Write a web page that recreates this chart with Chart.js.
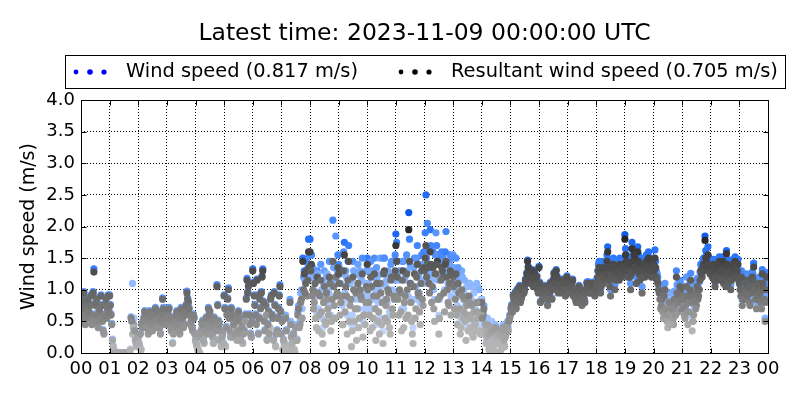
<!DOCTYPE html>
<html>
<head>
<meta charset="utf-8">
<script src="https://cdn.jsdelivr.net/npm/chart.js@4.4.0/dist/chart.umd.min.js"></script>
<style>
  body { margin: 0; background: #fff; }
</style>
</head>
<body>
<canvas id="chart" width="800" height="400"></canvas>
<script>
const latestTime = "2023-11-09 00:00:00 UTC";
const stepMinutes = 3; // 20 samples per hour in each array
const hourLabels = ["00","01","02","03","04","05","06","07","08","09","10","11",
  "12","13","14","15","16","17","18","19","20","21","22","23","00"];
const windMean = 0.817;
const resultantMean = 0.705;

// samples on the 3-minute marks
const windSpeed = [
  0.87,0.62,0.97,0.47,0.72,0.82,0.57,0.92,0.52,1.33,0.77,0.87,0.42,0.67,0.92,0.52,0.32,0.77,0.57,0.92, // 00
  0.92,0.62,0.22,0.06,0,0,0,0,0,0,0,0,0,0,0,0.57,1.1,0.55,0.22,0.14,                                  // 01
  0.27,0.12,0.07,0.42,0.57,0.62,0.47,0.32,0.67,0.52,0.37,0.57,0.72,0.47,0.62,0.42,0.52,0.87,0.67,0.47, // 02
  0.52,0.62,0.47,0.37,0.17,0.57,0.42,0.67,0.52,0.32,0.72,0.57,0.47,0.62,0.98,0.82,0.62,0.52,0.37,0.57, // 03
  0.22,0.12,0.06,0.01,0.37,0.52,0.17,0.47,0.32,0.72,0.67,0.42,0.27,0.57,0.22,1.08,0.52,0.37,0.12,0.32, // 04
  0.92,0.12,0.62,1.03,0.37,0.72,0.27,0.57,0.55,0.22,0.67,0.32,0.52,0.17,0.37,0.62,1.18,1.07,0.47,0.27, // 05
  1.33,0.92,0.62,1.17,0.32,0.87,0.97,1.33,0.52,0.77,0.22,0.67,0.6,0.92,0.57,0.97,0.12,0.37,0.72,1.08,  // 06
  0.32,0.07,0.17,0.6,0.02,0.12,0.85,0.27,0.03,0.07,0.45,0.22,0.75,0.5,1.0,1.5,1.3,1.25,1.2,1.8,        // 07
  1.8,1.55,1.35,1.2,0.9,1.3,0.7,1.15,1.0,0.4,1.3,0.8,1.25,0.95,1.45,0.75,2.1,1.1,1.85,1.3,             // 08
  1.4,0.9,1.25,0.8,1.75,1.3,0.6,1.7,1.1,0.45,1.45,0.85,1.25,1.05,0.7,1.3,1.15,0.5,0.95,1.1,            // 09
  1.5,1.1,0.7,1.3,0.85,1.5,0.45,1.2,1.0,1.5,0.8,0.35,1.5,1.05,0.8,1.25,0.6,1.45,0.95,1.15,             // 10
  1.88,1.45,0.95,1.3,0.7,1.45,1.15,0.9,1.3,2.22,1.4,0.85,0.4,1.5,1.05,1.7,1.2,0.8,1.55,1.1,            // 11
  1.6,2.5,2.05,1.35,1.95,1.15,1.6,0.85,1.9,1.55,0.6,1.2,1.6,1.5,1.0,1.92,1.3,1.05,1.55,1.35,           // 12
  1.55,1.0,1.5,0.75,1.2,0.5,1.3,0.85,1.15,0.4,0.9,1.1,0.6,1.05,0.45,0.75,0.55,1.05,1.0,0.45,           // 13
  0.85,0.65,0.45,0.2,0.55,0.08,0.3,0.5,0.12,0.35,0.25,0.4,0.02,0.18,0.3,0.45,0.12,0.35,0.5,0.52,       // 14
  0.62,0.77,0.92,0.87,0.72,1.02,0.97,0.82,0.92,1.07,1.02,1.12,1.47,1.32,1.17,1.22,1.07,1.27,1.12,1.02, // 15
  1.37,0.82,1.02,0.97,0.92,1.07,0.77,1.02,1.12,0.87,1.17,1.22,1.32,1.07,1.12,1.02,0.97,1.17,1.07,1.12, // 16
  1.17,1.07,1.02,1.12,0.92,0.97,0.82,1.02,1.07,0.87,0.77,0.97,0.82,1.02,1.13,1.12,0.97,1.02,1.08,0.93, // 17
  1.05,1.3,1.45,1.0,1.35,1.2,1.4,1.28,1.68,1.25,1.0,1.4,1.5,1.08,1.35,1.45,1.22,1.38,1.3,1.48,         // 18
  1.87,1.55,1.3,1.45,1.1,1.75,1.4,1.6,1.2,1.68,1.35,1.5,1.05,1.4,1.3,1.55,1.42,1.35,1.5,1.38,          // 19
  1.5,1.63,1.3,1.2,1.05,0.85,0.95,0.7,1.1,0.75,0.55,0.95,0.62,0.8,0.55,0.9,1.3,0.8,1.02,1.1,           // 20
  0.8,1.05,0.7,1.2,0.6,0.95,1.26,0.5,0.75,1.1,0.9,0.98,1.12,1.4,1.35,1.5,1.85,1.55,1.68,1.4,           // 21
  1.42,1.3,1.48,1.12,1.38,1.22,1.52,1.33,1.42,1.18,1.28,1.62,1.18,1.42,1.08,1.38,1.28,1.52,1.33,1.48,  // 22
  1.18,1.0,0.85,1.1,0.95,1.25,1.05,0.9,1.12,1.28,1.42,1.15,0.8,1.0,1.2,0.9,1.32,1.08,0.55,1.27         // 23
];

// samples half way between the marks (+1.5 min)
const windSpeedHalf = [
  0.72,0.82,0.57,0.62,0.87,0.67,0.77,0.47,0.97,0.62,0.82,0.52,0.72,0.57,0.77,0.37,0.62,0.87,0.72,0.67, // 00
  0.77,0.47,0.12,0,0,0,0,0,0,0,0,0,0,0,0.07,0.53,0.55,0.37,0.17,0.22,                                 // 01
  0.17,0.32,0.47,0.52,0.67,0.42,0.57,0.62,0.37,0.47,0.62,0.52,0.42,0.67,0.57,0.32,0.62,0.72,0.52,0.57, // 02
  0.47,0.72,0.57,0.42,0.32,0.52,0.62,0.47,0.37,0.57,0.62,0.42,0.67,0.77,0.87,0.72,0.47,0.42,0.62,0.32, // 03
  0.17,0.07,0.27,0.32,0.47,0.22,0.37,0.57,0.42,0.62,0.32,0.52,0.17,0.42,0.37,0.77,0.47,0.22,0.27,0.17, // 04
  0.72,0.42,0.87,0.57,0.27,0.62,0.47,0.32,0.52,0.37,0.57,0.22,0.42,0.32,0.6,0.87,0.97,0.62,0.32,0.52,  // 05
  1.12,0.77,0.47,0.92,0.57,0.72,1.22,0.82,0.37,0.75,0.47,0.32,0.87,0.62,0.22,0.77,0.32,0.57,0.92,0.67, // 06
  0.52,0.22,0.12,0.37,0.07,0.02,0.5,0.17,0.32,0.02,0.22,0.65,0.45,0.95,0.7,1.2,1.15,1.45,1.35,1.55,    // 07
  1.55,1.2,1.0,1.3,0.65,1.25,0.95,1.4,0.55,1.1,0.85,1.2,1.0,1.45,0.6,1.15,1.35,0.9,1.2,1.55,           // 08
  1.35,1.1,0.75,1.6,0.95,1.2,1.45,0.85,1.15,0.6,1.3,1.0,0.4,1.4,0.85,1.2,1.5,0.9,0.7,1.3,              // 09
  1.3,0.9,1.45,0.7,1.2,1.0,1.35,0.8,0.55,1.25,1.1,1.5,0.85,1.15,1.3,0.65,1.4,1.0,1.2,1.55,             // 10
  1.75,1.15,1.3,0.95,1.45,0.7,1.2,1.55,0.9,1.8,1.1,0.55,1.35,0.85,1.5,1.25,0.95,1.4,1.15,1.6,          // 11
  1.9,1.5,1.65,1.25,1.7,1.35,1.0,1.55,1.7,1.15,0.85,1.45,1.55,1.25,1.6,1.45,1.1,1.4,0.9,1.5,           // 12
  1.35,1.1,0.9,1.35,1.0,0.65,1.2,0.95,0.75,1.05,0.55,1.1,0.85,0.5,0.95,0.7,1.1,0.8,0.55,0.85,          // 13
  0.6,0.75,0.55,0.3,0.35,0.12,0.4,0.25,0.07,0.45,0.3,0.18,0.35,0.07,0.4,0.22,0.28,0.45,0.4,0.6,        // 14
  0.72,0.67,0.87,0.97,0.82,0.92,1.07,0.87,1.02,0.97,1.17,1.27,1.37,1.22,1.12,1.32,1.17,1.07,1.22,0.97, // 15
  1.12,0.97,0.87,1.07,1.02,0.92,0.87,0.97,1.07,1.02,1.27,1.12,1.22,0.97,1.07,1.17,1.12,1.02,0.92,1.22, // 16
  1.12,0.97,1.07,1.17,1.02,0.87,0.92,0.97,0.82,1.02,0.92,0.87,0.97,1.12,1.02,0.97,1.07,1.12,0.97,1.02, // 17
  1.18,1.4,1.25,1.12,1.45,1.3,1.33,1.55,1.45,1.12,1.3,1.45,1.35,1.25,1.38,1.28,1.5,1.35,1.45,1.38,     // 18
  1.65,1.4,1.5,1.3,1.35,1.55,1.65,1.45,1.4,1.55,1.25,1.4,1.3,1.5,1.45,1.35,1.6,1.4,1.3,1.45,           // 19
  1.4,1.45,1.25,1.1,0.97,0.88,0.8,1.0,0.85,0.65,0.75,0.6,0.85,0.7,0.98,0.75,1.08,0.95,1.15,0.98,       // 20
  0.98,0.75,0.88,1.02,0.8,1.12,1.02,0.65,0.92,0.85,1.18,1.02,1.28,1.35,1.45,1.42,1.62,1.45,1.52,1.35,  // 21
  1.33,1.38,1.22,1.42,1.28,1.48,1.38,1.22,1.52,1.38,1.12,1.48,1.33,1.38,1.22,1.48,1.42,1.28,1.38,1.22, // 22
  1.08,1.3,0.95,1.05,1.2,1.0,1.15,0.85,1.05,1.25,1.1,0.95,1.0,1.15,1.05,0.8,1.2,0.95,0.9,1.1           // 23
];

const resultantSpeed = [
  0.85,0.6,0.95,0.45,0.7,0.8,0.55,0.9,0.5,1.28,0.75,0.85,0.4,0.65,0.9,0.5,0.3,0.75,0.55,0.9,          // 00
  0.9,0.6,0.2,0.05,0,0,0,0,0,0,0,0,0,0,0,0.55,0.3,0.45,0.2,0.1,                                       // 01
  0.25,0.1,0.05,0.4,0.55,0.6,0.45,0.3,0.65,0.5,0.35,0.55,0.7,0.45,0.6,0.4,0.5,0.85,0.65,0.45,         // 02
  0.5,0.6,0.45,0.35,0.15,0.55,0.4,0.65,0.5,0.3,0.7,0.55,0.45,0.6,0.95,0.8,0.6,0.5,0.35,0.55,          // 03
  0.2,0.1,0.05,0,0.35,0.5,0.15,0.45,0.3,0.7,0.65,0.4,0.25,0.55,0.2,1.05,0.5,0.35,0.1,0.3,             // 04
  0.9,0.1,0.6,1.0,0.35,0.7,0.25,0.55,0.4,0.2,0.65,0.3,0.5,0.15,0.35,0.6,1.15,1.05,0.45,0.25,          // 05
  1.3,0.9,0.6,1.15,0.3,0.85,0.95,1.3,0.5,0.75,0.2,0.65,0.4,0.9,0.55,0.95,0.1,0.35,0.7,1.05,           // 06
  0.3,0.05,0.15,0.55,0,0.1,0.8,0.25,0,0.05,0.4,0.2,0.7,0.45,0.85,1.45,1.25,1.1,0.9,1.6,               // 07
  1.6,1.4,1.0,0.8,0.55,1.2,0.35,0.9,0.65,0.15,1.05,0.45,0.85,0.6,1.1,0.5,1.45,0.75,1.2,0.95,          // 08
  1.25,0.6,0.9,0.45,1.55,1.05,0.3,1.45,0.75,0.1,1.2,0.5,0.95,0.7,0.4,1.0,0.85,0.25,0.6,0.8,           // 09
  1.4,0.8,0.35,1.05,0.55,1.25,0.2,0.9,0.65,1.1,0.45,0.15,1.3,0.75,0.5,0.95,0.3,1.2,0.6,0.85,          // 10
  1.7,1.2,0.6,0.95,0.35,1.3,0.8,0.55,1.0,1.95,1.1,0.5,0.15,1.25,0.7,1.4,0.9,0.45,1.3,0.75,            // 11
  1.3,1.7,1.4,1.1,1.6,0.8,1.35,0.5,1.25,1.45,0.3,0.9,1.35,1.2,0.65,1.45,1.0,0.75,1.3,1.1,             // 12
  1.2,0.7,1.25,0.45,0.95,0.3,1.0,0.55,0.85,0.2,0.6,0.9,0.4,0.75,0.25,0.5,0.35,0.65,0.8,0.3,           // 13
  0.8,0.6,0.35,0.15,0.45,0.05,0.25,0.4,0.1,0.3,0.2,0.35,0,0.15,0.25,0.4,0.1,0.3,0.45,0.5,             // 14
  0.6,0.75,0.9,0.85,0.7,1.0,0.95,0.8,0.9,1.05,1.0,1.1,1.45,1.3,1.15,1.2,1.05,1.25,1.1,1.0,            // 15
  1.35,0.8,1.0,0.95,0.9,1.05,0.75,1.0,1.1,0.85,1.15,1.2,1.3,1.05,1.1,1.0,0.95,1.15,1.05,1.1,          // 16
  1.15,1.05,1.0,1.1,0.9,0.95,0.8,1.0,1.05,0.85,0.75,0.95,0.8,1.0,1.05,1.1,0.95,1.0,1.05,0.9,          // 17
  1.0,1.2,1.35,0.95,1.25,1.1,1.3,1.2,1.6,1.15,0.9,1.3,1.4,1.0,1.25,1.35,1.15,1.3,1.2,1.4,             // 18
  1.8,1.45,1.2,1.35,1.0,1.65,1.3,1.5,1.1,1.6,1.25,1.4,0.95,1.3,1.2,1.45,1.35,1.25,1.4,1.3,            // 19
  1.4,1.5,1.2,1.1,0.95,0.7,0.85,0.55,1.0,0.6,0.4,0.8,0.5,0.65,0.45,0.75,1.2,0.65,0.9,1.0,             // 20
  0.7,0.9,0.55,1.05,0.45,0.8,1.15,0.35,0.6,0.95,0.75,0.85,1.0,1.3,1.2,1.4,1.78,1.45,1.55,1.3,         // 21
  1.35,1.2,1.4,1.05,1.3,1.15,1.45,1.25,1.35,1.1,1.2,1.57,1.1,1.35,1.0,1.3,1.2,1.45,1.25,1.4,          // 22
  1.1,0.9,0.75,1.0,0.85,1.15,0.95,0.8,1.05,1.2,1.36,1.05,0.7,0.9,1.1,0.8,1.25,1.0,0.5,1.2             // 23
];

const resultantSpeedHalf = [
  0.7,0.8,0.55,0.6,0.85,0.65,0.75,0.45,0.95,0.6,0.8,0.5,0.7,0.55,0.75,0.35,0.6,0.85,0.7,0.65,         // 00
  0.75,0.45,0.1,0,0,0,0,0,0,0,0,0,0,0,0.05,0.5,0.4,0.35,0.15,0.2,                                     // 01
  0.15,0.3,0.45,0.5,0.65,0.4,0.55,0.6,0.35,0.45,0.6,0.5,0.4,0.65,0.55,0.3,0.6,0.7,0.5,0.55,           // 02
  0.45,0.7,0.55,0.4,0.3,0.5,0.6,0.45,0.35,0.55,0.6,0.4,0.65,0.75,0.85,0.7,0.45,0.4,0.6,0.3,           // 03
  0.15,0.05,0.25,0.3,0.45,0.2,0.35,0.55,0.4,0.6,0.3,0.5,0.15,0.4,0.35,0.75,0.45,0.2,0.25,0.15,        // 04
  0.7,0.4,0.85,0.55,0.25,0.6,0.45,0.3,0.5,0.35,0.55,0.2,0.4,0.3,0.5,0.85,0.95,0.6,0.3,0.5,            // 05
  1.1,0.75,0.45,0.9,0.55,0.7,1.2,0.8,0.35,0.6,0.45,0.3,0.85,0.6,0.2,0.75,0.3,0.55,0.9,0.65,           // 06
  0.5,0.2,0.1,0.35,0.05,0,0.45,0.15,0.3,0,0.2,0.6,0.4,0.8,0.55,1.0,0.95,1.3,1.15,1.35,                // 07
  1.3,0.9,0.7,1.1,0.4,0.95,0.6,1.15,0.3,0.8,0.5,0.95,0.7,1.2,0.35,0.85,1.05,0.55,0.9,1.35,            // 08
  1.1,0.8,0.45,1.3,0.65,0.9,1.15,0.5,0.85,0.35,1.0,0.7,0.2,1.1,0.55,0.9,1.25,0.6,0.45,1.05,           // 09
  1.0,0.6,1.2,0.4,0.9,0.7,1.1,0.5,0.3,0.95,0.8,1.25,0.55,0.85,1.0,0.4,1.15,0.7,0.9,1.3,               // 10
  1.45,0.85,1.0,0.65,1.15,0.4,0.9,1.25,0.6,1.45,0.8,0.3,1.05,0.55,1.2,0.95,0.65,1.1,0.85,1.35,        // 11
  1.5,1.2,1.35,0.95,1.4,1.05,0.7,1.25,1.4,0.85,0.55,1.15,1.3,0.95,1.4,1.2,0.8,1.1,0.6,1.25,           // 12
  1.05,0.85,0.6,1.1,0.7,0.4,0.9,0.65,0.5,0.75,0.35,0.8,0.55,0.3,0.65,0.45,0.8,0.55,0.35,0.6,          // 13
  0.55,0.7,0.45,0.25,0.3,0.1,0.35,0.2,0.05,0.4,0.25,0.15,0.3,0.05,0.35,0.2,0.25,0.4,0.35,0.55,        // 14
  0.7,0.65,0.85,0.95,0.8,0.9,1.05,0.85,1.0,0.95,1.15,1.25,1.35,1.2,1.1,1.3,1.15,1.05,1.2,0.95,        // 15
  1.1,0.95,0.85,1.05,1.0,0.9,0.85,0.95,1.05,1.0,1.25,1.1,1.2,0.95,1.05,1.15,1.1,1.0,0.9,1.2,          // 16
  1.1,0.95,1.05,1.15,1.0,0.85,0.9,0.95,0.8,1.0,0.9,0.85,0.95,1.1,1.0,0.95,1.05,1.1,0.95,1.0,          // 17
  1.1,1.3,1.15,1.05,1.35,1.2,1.25,1.45,1.35,1.05,1.2,1.35,1.25,1.15,1.3,1.2,1.4,1.25,1.35,1.3,        // 18
  1.55,1.3,1.4,1.2,1.25,1.45,1.55,1.35,1.3,1.45,1.15,1.3,1.2,1.4,1.35,1.25,1.5,1.3,1.2,1.35,          // 19
  1.3,1.35,1.15,1.0,0.85,0.75,0.65,0.9,0.7,0.5,0.6,0.45,0.7,0.55,0.85,0.6,0.95,0.8,1.05,0.85,         // 20
  0.85,0.6,0.75,0.9,0.65,1.0,0.9,0.5,0.8,0.7,1.05,0.9,1.15,1.25,1.35,1.3,1.5,1.35,1.4,1.25,           // 21
  1.25,1.3,1.15,1.35,1.2,1.4,1.3,1.15,1.45,1.3,1.05,1.4,1.25,1.3,1.15,1.4,1.35,1.2,1.3,1.15,          // 22
  1.0,1.2,0.85,0.95,1.1,0.9,1.05,0.75,0.95,1.15,1.0,0.85,0.9,1.05,0.95,0.7,1.1,0.85,0.8,1.0           // 23
];

const toPoints = (arr, offsetMin) =>
  arr.map((v, i) => ({ x: (i * stepMinutes + offsetMin) / 60, y: v }));

const windPoints = [...toPoints(windSpeed, 0), ...toPoints(windSpeedHalf, 1.5)];
const resultantPoints = [...toPoints(resultantSpeed, 0), ...toPoints(resultantSpeedHalf, 1.5)];

// steadiness = resultant / scalar speed, 0..1 rescaled; steady air is drawn darker
function steadiness(i) {
  const w = windPoints[i].y, r = resultantPoints[i].y;
  const s = w > 0 ? r / w : 1;
  return Math.max(0, Math.min(1, (s - 0.7) / 0.3));
}

function grayFor(i) {
  const v = resultantPoints[i].y;
  const g = Math.round(Math.max(30, Math.min(180, 210 - 75 * v - 42 * steadiness(i))));
  return `rgb(${g},${g},${g})`;
}

const blueStops = [
  [0, [215, 230, 255]],
  [0.5, [120, 170, 255]],
  [0.8, [40, 115, 250]],
  [1, [0, 75, 225]]
];
function blueFor(i) {
  const t = Math.max(0, Math.min(1, 0.33 * windPoints[i].y + 0.35 * steadiness(i)));
  for (let k = 1; k < blueStops.length; k++) {
    if (t <= blueStops[k][0]) {
      const [t0, c0] = blueStops[k - 1];
      const [t1, c1] = blueStops[k];
      const f = (t - t0) / (t1 - t0);
      const c = c0.map((c, j) => Math.round(c + (c1[j] - c) * f));
      return `rgb(${c.join(",")})`;
    }
  }
  return `rgb(${blueStops[blueStops.length - 1][1].join(",")})`;
}

const FONT = "'DejaVu Sans', sans-serif";
Chart.defaults.font.family = FONT;
Chart.defaults.color = "#000";

const framePlugin = {
  id: "frame",
  afterDraw(chart) {
    const { ctx, chartArea: a, scales } = chart;
    const L = Math.round(a.left) + 0.5, R = Math.round(a.right) + 0.5;
    const T = Math.round(a.top) + 0.5, B = Math.round(a.bottom) + 0.5;
    ctx.save();
    ctx.strokeStyle = "#000";
    ctx.lineWidth = 1;
    ctx.strokeRect(L, T, R - L, B - T);

    // inward tick marks on all four sides
    ctx.beginPath();
    for (let h = 0; h <= 24; h++) {
      const px = Math.round(scales.x.getPixelForValue(h)) + 0.5;
      ctx.moveTo(px, B); ctx.lineTo(px, B - 5);
      ctx.moveTo(px, T); ctx.lineTo(px, T + 5);
    }
    for (let v = 0; v <= 4; v += 0.5) {
      const py = Math.round(scales.y.getPixelForValue(v)) + 0.5;
      ctx.moveTo(L, py); ctx.lineTo(L + 5, py);
      ctx.moveTo(R, py); ctx.lineTo(R - 5, py);
    }
    ctx.stroke();

    // title
    ctx.fillStyle = "#000";
    ctx.textAlign = "center";
    ctx.textBaseline = "middle";
    ctx.font = "23.5px " + FONT;
    ctx.fillText("Latest time: " + latestTime, (a.left + a.right) / 2, 34);

    // legend box
    ctx.fillStyle = "#fff";
    ctx.fillRect(65.5, 55.5, 720, 33);
    ctx.strokeRect(65.5, 55.5, 720, 33);
    const entries = [
      { x: 76, color: "#0000ff", text: `Wind speed (${windMean.toFixed(3)} m/s)` },
      { x: 401, color: "#000000", text: `Resultant wind speed (${resultantMean.toFixed(3)} m/s)` }
    ];
    ctx.textAlign = "left";
    ctx.font = "19.4px " + FONT;
    entries.forEach(e => {
      ctx.fillStyle = e.color;
      [[0, 2.4], [14, 2.8], [28, 2.6]].forEach(([dx, r]) => {
        ctx.beginPath();
        ctx.arc(e.x + dx, 72, r, 0, Math.PI * 2);
        ctx.fill();
      });
      ctx.fillStyle = "#000";
      ctx.fillText(e.text, e.x + 50, 72);
    });
    ctx.restore();
  }
};

new Chart(document.getElementById("chart"), {
  type: "scatter",
  data: {
    datasets: [
      {
        label: "Wind speed",
        data: windPoints,
        order: 1,
        pointRadius: 3.6,
        pointBorderWidth: 0,
        pointBackgroundColor: (c) => blueFor(c.dataIndex || 0),
        clip: 0
      },
      {
        label: "Resultant wind speed",
        data: resultantPoints,
        order: 0,
        pointRadius: 3.6,
        pointBorderWidth: 0,
        pointBackgroundColor: (c) => grayFor(c.dataIndex || 0),
        clip: 0
      }
    ]
  },
  options: {
    responsive: false,
    animation: false,
    layout: { padding: { top: 100, right: 32, bottom: 0, left: 0 } },
    plugins: {
      legend: { display: false },
      title: { display: false },
      tooltip: { enabled: false }
    },
    scales: {
      x: {
        type: "linear",
        min: 0,
        max: 24,
        afterFit: (s) => { s.height = 47; },
        ticks: {
          stepSize: 1,
          autoSkip: false,
          maxRotation: 0,
          padding: 6,
          font: { size: 18 },
          callback: (v) => hourLabels[v]
        },
        grid: { color: "#000", lineWidth: 1, drawTicks: false },
        border: { display: false, dash: [1, 2] }
      },
      y: {
        min: 0,
        max: 4,
        afterFit: (s) => { s.width = 81; },
        ticks: {
          stepSize: 0.5,
          padding: 6,
          font: { size: 18 },
          callback: (v) => v.toFixed(1)
        },
        title: {
          display: true,
          text: "Wind speed (m/s)",
          font: { size: 19 },
          padding: { top: 18, bottom: 0 }
        },
        grid: { color: "#000", lineWidth: 1, drawTicks: false },
        border: { display: false, dash: [1, 2] }
      }
    }
  },
  plugins: [framePlugin]
});
</script>
</body>
</html>
